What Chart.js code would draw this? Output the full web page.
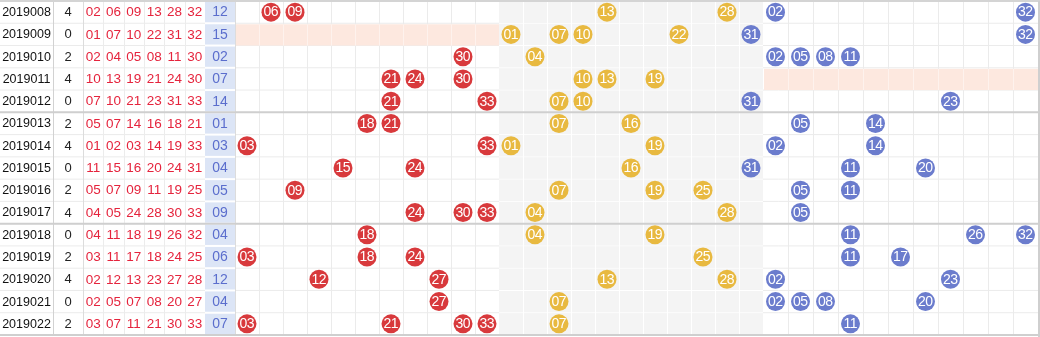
<!DOCTYPE html>
<html>
<head>
<meta charset="utf-8">
<script src="https://cdn.jsdelivr.net/npm/chart.js@4/dist/chart.umd.min.js"></script>
<style>
  html, body { margin: 0; padding: 0; background: #fff; }
  #wrap { width: 1040px; height: 337px; }
</style>
</head>
<body>
<div id="wrap"><canvas id="trend" width="1040" height="337"></canvas></div>
<script>
const periods = [
  "2019008", "2019009", "2019010", "2019011", "2019012",
  "2019013", "2019014", "2019015", "2019016", "2019017",
  "2019018", "2019019", "2019020", "2019021", "2019022"
];

const counts = [4, 0, 2, 4, 0, 2, 4, 0, 2, 4, 0, 2, 4, 0, 2];

const redNumbers = [
  [2, 6, 9, 13, 28, 32],
  [1, 7, 10, 22, 31, 32],
  [2, 4, 5, 8, 11, 30],
  [10, 13, 19, 21, 24, 30],
  [7, 10, 21, 23, 31, 33],
  [5, 7, 14, 16, 18, 21],
  [1, 2, 3, 14, 19, 33],
  [11, 15, 16, 20, 24, 31],
  [5, 7, 9, 11, 19, 25],
  [4, 5, 24, 28, 30, 33],
  [4, 11, 18, 19, 26, 32],
  [3, 11, 17, 18, 24, 25],
  [2, 12, 13, 23, 27, 28],
  [2, 5, 7, 8, 20, 27],
  [3, 7, 11, 21, 30, 33]
];

const blueNumbers = [12, 15, 2, 7, 14, 1, 3, 4, 5, 9, 4, 6, 12, 4, 7];

// layout (x in layout units = px of the 1040 wide table)
const infoEdges = [0, 53, 83, 103.3, 123.7, 144, 164.3, 184.7, 205, 235];
const zoneStarts = [235, 499, 763];
const zoneColWidths = [24, 24, 25];
const zoneColours = ["#d8393c", "#e8b940", "#6b7ccd"];

const pad = (n) => String(n).padStart(2, "0");
const zoneOf = (n) => n % 3;
const colOf = (n) => (n % 3 === 0 ? n / 3 - 1 : (n - (n % 3)) / 3);

function ballX(n) {
  const zone = zoneOf(n);
  return zoneStarts[zone] + zoneColWidths[zone] * (colOf(n) + 0.5);
}

function ballColour(n) {
  return n === 31 ? zoneColours[2] : zoneColours[zoneOf(n)];
}

const balls = [];
redNumbers.forEach((row, i) => {
  row.forEach((n) => {
    balls.push({ x: ballX(n), y: i + 0.5, n });
  });
});

const tablePlugin = {
  id: "tablePlugin",
  beforeDatasetsDraw(chart) {
    const { ctx, scales } = chart;
    const xs = scales.x;
    const ys = scales.y;
    const X = (v) => xs.getPixelForValue(v);
    const Y = (v) => ys.getPixelForValue(v);
    const top = Y(0);
    const bottom = Y(periods.length);
    const gridRight = zoneStarts[2] + zoneColWidths[2] * 11;

    ctx.save();

    // yellow zone background
    ctx.fillStyle = "#f4f4f4";
    ctx.fillRect(X(zoneStarts[1]), top, X(zoneStarts[2]) - X(zoneStarts[1]), bottom - top);

    // blue number column
    ctx.fillStyle = "#dce5f6";
    ctx.fillRect(X(infoEdges[8]), top, X(infoEdges[9]) - X(infoEdges[8]), bottom - top);

    // light grid lines
    ctx.lineWidth = 1;
    const vLine = (x, y0, y1, colour) => {
      ctx.strokeStyle = colour;
      ctx.beginPath();
      ctx.moveTo(Math.round(X(x)) + 0.5, y0);
      ctx.lineTo(Math.round(X(x)) + 0.5, y1);
      ctx.stroke();
    };
    const hLine = (y, x0, x1, colour, width) => {
      ctx.strokeStyle = colour;
      ctx.lineWidth = width || 1;
      ctx.beginPath();
      ctx.moveTo(X(x0), Y(y));
      ctx.lineTo(X(x1), Y(y));
      ctx.stroke();
      ctx.lineWidth = 1;
    };

    for (let r = 1; r < periods.length; r++) {
      hLine(r, 0, gridRight, "#ebebeb");
      hLine(r, zoneStarts[1], zoneStarts[2], "#ffffff");
      hLine(r, infoEdges[8], infoEdges[9], "#ffffff", 2);
    }

    for (let c = 3; c < 8; c++) vLine(infoEdges[c], top, bottom, "#ececec");
    vLine(infoEdges[1], top, bottom, "#d2d2d2");
    vLine(infoEdges[2], top, bottom, "#dcdcdc");
    vLine(infoEdges[9], top, bottom, "#dcdcdc");

    for (let z = 0; z < 3; z++) {
      for (let c = 1; c < 11; c++) {
        const x = zoneStarts[z] + zoneColWidths[z] * c;
        vLine(x, top, bottom, z === 1 ? "#ffffff" : "#ebebeb");
      }
    }

    // zones with no ball in a period
    redNumbers.forEach((row, i) => {
      for (let z = 0; z < 3; z++) {
        if (row.some((n) => zoneOf(n) === z)) continue;
        const x0 = X(zoneStarts[z]) + 1;
        const x1 = X(zoneStarts[z] + zoneColWidths[z] * 11);
        ctx.fillStyle = "#fde8df";
        ctx.fillRect(x0, Y(i) + 1, x1 - x0, Y(i + 1) - Y(i) - 1);
        for (let c = 1; c < 11; c++) {
          const x = Math.round(X(zoneStarts[z] + zoneColWidths[z] * c)) + 0.5;
          ctx.strokeStyle = "rgba(255,255,255,0.45)";
          ctx.beginPath();
          ctx.moveTo(x, Y(i) + 1);
          ctx.lineTo(x, Y(i + 1));
          ctx.stroke();
        }
      }
    });

    // group separators and borders
    hLine(5, 0, 1040, "#cfcfcf", 2);
    hLine(10, 0, 1040, "#cfcfcf", 2);
    hLine(0, 0, 1040, "#d4d4d4", 2);
    hLine(periods.length, 0, 1040, "#cfcfcf", 2);
    ctx.fillStyle = "#cfcfcf";
    ctx.fillRect(X(gridRight), top, 2, bottom - top + 2);

    // text cells
    ctx.textAlign = "center";
    ctx.textBaseline = "middle";
    periods.forEach((p, i) => {
      const y = Y(i + 0.5) + 0.5;
      ctx.font = "12.5px 'Liberation Sans', Arial, sans-serif";
      ctx.fillStyle = "#111111";
      ctx.fillText(p, X((infoEdges[0] + infoEdges[1]) / 2), y);
      ctx.font = "13px 'Liberation Sans', Arial, sans-serif";
      ctx.fillStyle = "#222222";
      ctx.fillText(String(counts[i]), X((infoEdges[1] + infoEdges[2]) / 2), y);
      ctx.font = "13.5px 'Liberation Sans', Arial, sans-serif";
      ctx.fillStyle = "#e5243d";
      redNumbers[i].forEach((n, k) => {
        ctx.fillText(pad(n), X((infoEdges[2 + k] + infoEdges[3 + k]) / 2), y);
      });
      ctx.font = "14px 'Liberation Sans', Arial, sans-serif";
      ctx.fillStyle = "#5b6ecd";
      ctx.fillText(pad(blueNumbers[i]), X((infoEdges[8] + infoEdges[9]) / 2), y);
    });

    ctx.restore();
  },
  afterDatasetsDraw(chart) {
    const { ctx } = chart;
    const meta = chart.getDatasetMeta(0);
    ctx.save();
    ctx.font = "14px 'Liberation Sans', Arial, sans-serif";
    ctx.letterSpacing = "-0.5px";
    ctx.textAlign = "center";
    ctx.textBaseline = "middle";
    ctx.fillStyle = "#ffffff";
    meta.data.forEach((el, i) => {
      ctx.fillText(pad(balls[i].n), el.x - 0.25, el.y + 0.5);
    });
    ctx.restore();
  }
};

new Chart(document.getElementById("trend"), {
  type: "scatter",
  data: {
    datasets: [
      {
        data: balls,
        pointRadius: 9.5,
        pointHoverRadius: 9.5,
        pointBorderWidth: 0,
        backgroundColor: balls.map((b) => ballColour(b.n)),
        borderColor: balls.map((b) => ballColour(b.n))
      }
    ]
  },
  options: {
    responsive: false,
    animation: false,
    events: [],
    layout: { autoPadding: false, padding: { top: 1, bottom: 2, left: 0, right: 0 } },
    plugins: { legend: { display: false }, tooltip: { enabled: false } },
    scales: {
      x: { type: "linear", min: 0, max: 1040, display: false },
      y: { type: "linear", min: 0, max: periods.length, reverse: true, display: false }
    }
  },
  plugins: [tablePlugin]
});
</script>
</body>
</html>
